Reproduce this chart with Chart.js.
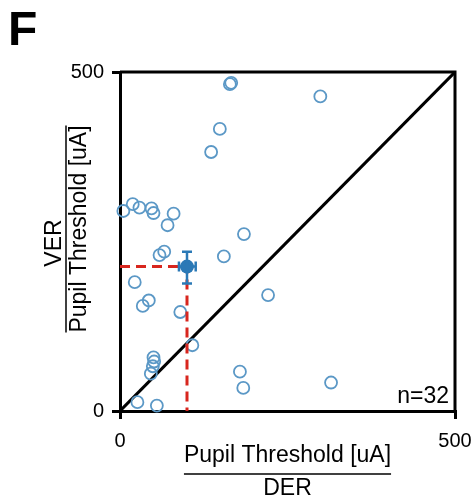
<!DOCTYPE html>
<html>
<head>
<meta charset="utf-8">
<script src="https://cdn.jsdelivr.net/npm/chart.js@4/dist/chart.umd.min.js"></script>
<style>
  html, body { margin: 0; padding: 0; background: #fff; }
  #wrap { width: 474px; height: 503px; }
</style>
</head>
<body>
<div id="wrap"><canvas id="c" width="474" height="503"></canvas></div>
<script>
// Per-subject pupil thresholds [uA]: DER stimulation (x) vs VER stimulation (y)
const derThreshold = [164, 166, 149, 136, 299,
  5, 19, 29, 47, 50, 80, 71,
  185, 59, 66, 155, 22, 34, 43, 90, 221, 108,
  50, 51, 49, 46,
  179, 184, 315, 26, 55];
const verThreshold = [482, 484, 416, 382, 464,
  295, 305, 300, 299, 292, 291, 274,
  261, 230, 235, 228, 190, 155, 163, 146, 171, 97,
  79, 73, 66, 55,
  58, 34, 42, 13, 8];

// Group mean and its error range
const meanDER = [100];
const meanVER = [213];
const meanDERRange = [88, 113];
const meanVERRange = [188, 235];

const axisTicks = [0, 500];
const sampleLabel = 'n=32';
const panelLetter = 'F';
const xTitle = ['Pupil Threshold [uA]', 'DER'];
const yTitle = ['VER', 'Pupil Threshold [uA]'];

const FONT = '"Liberation Sans", Arial, sans-serif';
const circleBlue = '#5b98c6';
const meanBlue = '#2b79b6';
const dashRed = '#d8261e';

const points = derThreshold.map((x, i) => ({ x, y: verThreshold[i] }));

const decor = {
  id: 'decor',
  afterDatasetsDraw(chart) {
    const { ctx, scales: { x, y } } = chart;
    ctx.save();
    // error bars on the mean
    const mx = x.getPixelForValue(meanDER[0]);
    const my = y.getPixelForValue(meanVER[0]);
    ctx.strokeStyle = meanBlue;
    ctx.lineWidth = 2.5;
    const cap = 5;
    const y1 = y.getPixelForValue(meanVERRange[0]);
    const y2 = y.getPixelForValue(meanVERRange[1]);
    const x1 = x.getPixelForValue(meanDERRange[0]);
    const x2 = x.getPixelForValue(meanDERRange[1]);
    ctx.beginPath();
    ctx.moveTo(mx, y1); ctx.lineTo(mx, y2);
    ctx.moveTo(mx - cap, y1); ctx.lineTo(mx + cap, y1);
    ctx.moveTo(mx - cap, y2); ctx.lineTo(mx + cap, y2);
    ctx.moveTo(x1, my); ctx.lineTo(x2, my);
    ctx.moveTo(x1, my - cap); ctx.lineTo(x1, my + cap);
    ctx.moveTo(x2, my - cap); ctx.lineTo(x2, my + cap);
    ctx.stroke();
    ctx.restore();
  },
  afterDraw(chart) {
    const { ctx, chartArea: a } = chart;
    ctx.save();
    // top and right frame lines
    ctx.strokeStyle = '#000';
    ctx.lineWidth = 3;
    ctx.beginPath();
    ctx.moveTo(a.left, a.top); ctx.lineTo(a.right, a.top); ctx.lineTo(a.right, a.bottom);
    ctx.stroke();

    ctx.fillStyle = '#000';
    // panel letter
    ctx.font = 'bold 48px ' + FONT;
    ctx.textAlign = 'left';
    ctx.textBaseline = 'alphabetic';
    ctx.fillText(panelLetter, 8, 45);

    // sample size
    ctx.font = '23px ' + FONT;
    ctx.textAlign = 'right';
    ctx.fillText(sampleLabel, a.right - 6, a.bottom - 8);

    // x title as fraction
    const cx = (a.left + a.right) / 2;
    ctx.textAlign = 'center';
    ctx.textBaseline = 'middle';
    ctx.font = '23px ' + FONT;
    ctx.fillText(xTitle[0], cx, 456);
    let w = ctx.measureText(xTitle[0]).width;
    ctx.lineWidth = 1.5;
    ctx.beginPath(); ctx.moveTo(cx - w / 2, 474); ctx.lineTo(cx + w / 2, 474); ctx.stroke();
    ctx.fillText(xTitle[1], cx, 489);

    // y title as fraction, rotated
    const cy = 229;
    ctx.translate(0, cy);
    ctx.rotate(-Math.PI / 2);
    ctx.fillText(yTitle[0], -14, 55);
    w = ctx.measureText(yTitle[1]).width;
    ctx.beginPath(); ctx.moveTo(-w / 2, 66); ctx.lineTo(w / 2, 66); ctx.stroke();
    ctx.fillText(yTitle[1], 0, 80);
    ctx.restore();
  }
};

const tickOpts = {
  min: 0, max: 500,
  border: { display: true, color: '#000', width: 3 },
  grid: { drawOnChartArea: false, drawTicks: true, tickLength: 8, color: '#000', lineWidth: 3 },
  ticks: {
    stepSize: 500, color: '#000', font: { family: FONT, size: 20 }, padding: 8,
    callback: v => axisTicks.includes(v) ? String(v) : ''
  }
};

new Chart(document.getElementById('c'), {
  type: 'scatter',
  data: {
    datasets: [
      { data: [{ x: meanDER[0], y: meanVER[0] }], pointRadius: 7, pointBackgroundColor: meanBlue,
        pointBorderColor: meanBlue, pointBorderWidth: 0 },
      { data: [{ x: 0, y: meanVER[0] }, { x: meanDER[0], y: meanVER[0] }, { x: meanDER[0], y: 0 }],
        showLine: true, borderColor: dashRed, borderWidth: 3, borderDash: [10, 6], pointRadius: 0, clip: false },
      { data: points, pointRadius: 6, pointBorderWidth: 1.8, pointBackgroundColor: 'rgba(0,0,0,0)',
        pointBorderColor: circleBlue, clip: false },
      { data: [{ x: 0, y: 0 }, { x: 500, y: 500 }], showLine: true, borderColor: '#000',
        borderWidth: 3, pointRadius: 0 }
    ]
  },
  options: {
    responsive: false,
    animation: false,
    layout: { padding: { left: 0, right: 19, top: 72, bottom: 0 } },
    plugins: { legend: { display: false }, tooltip: { enabled: false } },
    scales: {
      x: Object.assign({}, tickOpts, {
        type: 'linear',
        afterFit: s => { s.height = 92; s.paddingLeft = 0; s.paddingRight = 0; },
        ticks: Object.assign({}, tickOpts.ticks, { padding: 10 })
      }),
      y: Object.assign({}, tickOpts, {
        type: 'linear',
        afterFit: s => { s.width = 120; s.paddingTop = 0; s.paddingBottom = 0; }
      })
    }
  },
  plugins: [decor]
});
</script>
</body>
</html>
